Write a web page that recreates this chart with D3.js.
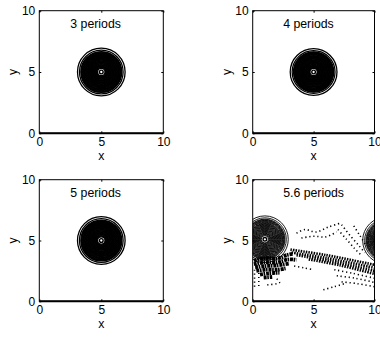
<!DOCTYPE html>
<html>
<head>
<meta charset="utf-8">
<script src="https://cdn.jsdelivr.net/npm/d3@7"></script>
<style>
  body { margin: 0; background: #fff; }
  svg { display: block; }
  text { font-family: "Liberation Sans", Arial, sans-serif; fill: #000; }
</style>
</head>
<body>
<svg id="chart" width="380" height="337"></svg>
<script>
// ---- data ----
const titles = ['3 periods', '4 periods', '5 periods', '5.6 periods'];
const xTicks = [0, 5, 10];
const yTicks = [0, 5, 10];

// contour radii (units) of the circular pattern
const ringRadii = [1.92, 1.76, 1.65, 1.6, 1.55, 1.5, 1.45, 1.4, 1.35, 1.3, 1.25, 1.2, 1.15,
  1.1, 1.05, 1.0, 0.95, 0.9, 0.85, 0.8, 0.75, 0.7, 0.65, 0.6, 0.55, 0.5, 0.45, 0.4, 0.35, 0.3];
const coreRadii = [0.15];

// centres of the pattern in each panel
const centres = [
  [[5, 5]],
  [[5, 5]],
  [[5, 5]],
  [[1.0, 5.1], [10.95, 5.0]]
];

// 5.6 periods: dense diagonal band of broken fronts
const bandStrands = [
  [[3.1, 4.25], [6, 3.8], [10, 3.0]],
  [[3.2, 4.0], [6.1, 3.55], [10, 2.75]],
  [[3.6, 3.8], [6.4, 3.3], [10, 2.5]],
  [[4.6, 3.45], [7.2, 2.95], [10, 2.25]]
];
// sparse dotted strands
const sparseStrands = [
  [[3.6, 5.6], [4.3, 5.9], [5.2, 5.7], [6.2, 6.1], [7.1, 6.4]],
  [[4.0, 5.2], [5.0, 5.35], [6.0, 5.3], [6.9, 5.7]],
  [[7.3, 6.3], [8.0, 5.4], [8.7, 4.6], [9.2, 4.0]],
  [[7.0, 5.9], [7.7, 5.1], [8.4, 4.3], [8.9, 3.8]],
  [[8.3, 6.2], [8.8, 5.4], [9.3, 4.6]],
  [[6.7, 2.6], [8.2, 2.3], [10, 1.9]],
  [[6.9, 2.1], [8.4, 1.9], [10, 1.55]],
  [[7.3, 1.6], [8.6, 1.45], [10, 1.2]],
  [[5.8, 0.95], [6.7, 1.2], [7.7, 1.5]],
  [[3.4, 2.9], [4.2, 2.75], [5.0, 2.6]],
  [[0.15, 1.2], [0.15, 2.6]],
  [[0.5, 1.25], [0.5, 2.5]],
  [[1.2, 1.35], [2.2, 1.55], [1.8, 2.0]]
];
// mottled cloud at lower left, drawn as thick broken rows
const blobRows = [
  [[0.1, 3.35], [1.0, 3.55], [2.0, 3.5], [2.8, 3.8], [3.3, 3.9]],
  [[0.1, 3.05], [1.0, 3.2], [2.0, 3.2], [3.0, 3.45], [3.6, 3.4]],
  [[0.2, 2.8], [1.0, 2.9], [2.0, 2.95], [3.0, 3.1]],
  [[0.3, 2.5], [1.1, 2.6], [2.0, 2.6], [2.7, 2.7]],
  [[0.6, 2.2], [1.3, 2.3], [2.2, 2.35]],
  [[0.9, 1.95], [1.6, 2.0]]
];

// ---- layout ----
const svg = d3.select('#chart');
const panels = [
  {x: 39.3, y: 10.7, w: 124, h: 122.6},
  {x: 252.7, y: 10.7, w: 121.8, h: 122.6},
  {x: 39.3, y: 179.7, w: 124, h: 121.6},
  {x: 252.7, y: 179.7, w: 121.8, h: 121.6}
];

panels.forEach((p, i) => {
  const xScale = d3.scaleLinear().domain([0, 10]).range([0, p.w]);
  const yScale = d3.scaleLinear().domain([0, 10]).range([p.h, 0]);
  const line = d3.line().x(d => xScale(d[0])).y(d => yScale(d[1])).curve(d3.curveCatmullRom);

  const g = svg.append('g').attr('transform', `translate(${p.x},${p.y})`);

  svg.append('clipPath').attr('id', `clip${i}`)
    .append('rect').attr('width', p.w).attr('height', p.h);

  const plot = g.append('g').attr('clip-path', `url(#clip${i})`);

  // broken fronts, last panel only
  if (i === 3) {
    plot.append('g').selectAll('path')
      .data(blobRows)
      .join('path')
      .attr('d', line)
      .attr('fill', 'none')
      .attr('stroke', '#000')
      .attr('stroke-width', 3.8)
      .attr('stroke-dasharray', '3 0.6 1.6 0.9');
    plot.append('g').selectAll('path')
      .data(bandStrands)
      .join('path')
      .attr('d', line)
      .attr('fill', 'none')
      .attr('stroke', '#000')
      .attr('stroke-width', 2.7)
      .attr('stroke-dasharray', '1.5 1.1');
    plot.append('g').selectAll('path')
      .data(sparseStrands)
      .join('path')
      .attr('d', line)
      .attr('fill', 'none')
      .attr('stroke', '#000')
      .attr('stroke-width', 1.6)
      .attr('stroke-dasharray', '1.2 2.8');
  }

  centres[i].forEach(c => {
    plot.append('g')
      .selectAll('circle')
      .data(ringRadii)
      .join('circle')
      .attr('cx', xScale(c[0]))
      .attr('cy', yScale(c[1]))
      .attr('r', d => xScale(d) - xScale(0))
      .attr('fill', 'none')
      .attr('stroke', '#000')
      // the broken-up panel shows a looser ring texture
      .attr('stroke-width', i === 3 ? 0.9 : 1.3);
    plot.append('g')
      .selectAll('circle')
      .data(coreRadii)
      .join('circle')
      .attr('cx', xScale(c[0]))
      .attr('cy', yScale(c[1]))
      .attr('r', d => xScale(d) - xScale(0))
      .attr('fill', '#fff')
      .attr('stroke', '#000')
      .attr('stroke-width', 1.4);
  });

  // axes, matlab style: inward ticks, box
  const xAxis = d3.axisBottom(xScale).tickValues(xTicks).tickSize(-2).tickPadding(4);
  const yAxis = d3.axisLeft(yScale).tickValues(yTicks).tickSize(-2).tickPadding(4);

  g.append('g').attr('transform', `translate(0,${p.h})`).call(xAxis);
  g.append('g').call(yAxis);
  g.append('g').call(d3.axisTop(xScale).tickValues(xTicks).tickSize(-2).tickFormat(''));
  g.append('g').attr('transform', `translate(${p.w},0)`)
    .call(d3.axisRight(yScale).tickValues(yTicks).tickSize(-2).tickFormat(''));

  g.selectAll('.domain').remove();
  g.selectAll('.tick text').attr('font-size', 12).attr('font-family', '"Liberation Sans", Arial, sans-serif');
  g.selectAll('.tick line').attr('stroke', '#000');

  g.append('rect')
    .attr('width', p.w).attr('height', p.h)
    .attr('fill', 'none').attr('stroke', '#000').attr('stroke-width', 1);
  g.append('line')
    .attr('x1', 0).attr('x2', p.w).attr('y1', p.h).attr('y2', p.h)
    .attr('stroke', '#000').attr('stroke-width', 2);

  g.append('text')
    .attr('x', xScale(2.5)).attr('y', yScale(8.55))
    .attr('font-size', 12.3)
    .text(titles[i]);

  g.append('text')
    .attr('x', xScale(5)).attr('y', p.h + 27)
    .attr('text-anchor', 'middle').attr('font-size', 12.3)
    .text('x');

  g.append('text')
    .attr('transform', `translate(-22,${yScale(5)}) rotate(-90)`)
    .attr('text-anchor', 'middle').attr('font-size', 12.3)
    .text('y');
});
</script>
</body>
</html>
